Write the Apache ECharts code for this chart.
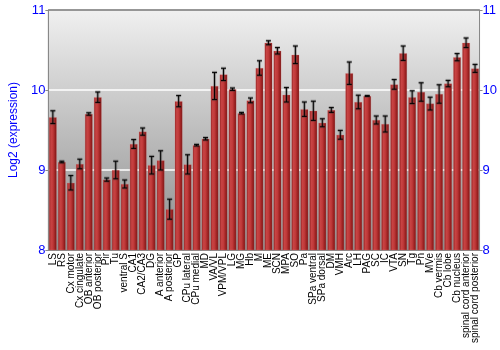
<!DOCTYPE html>
<html>
<head>
<meta charset="utf-8">
<script src="https://cdn.jsdelivr.net/npm/echarts@6/dist/echarts.min.js"></script>
<style>html,body{margin:0;padding:0;background:#fff;}#c{width:500px;height:350px;}</style>
</head>
<body>
<div id="c"></div>
<script>
const categories = ["LS","RS","Cx motor","Cx cingulate","OB anterior","OB posterior","Pir","Tu","ventral S","CA1","CA2/CA3","DG","A anterior","A posterior","GP","CPu lateral","CPu medial","MD","VA/VL","VPM/VPL","LG","MG","Hb","M","ME","SCN","MPA","SO","Pa","SPa ventral","SPa dorsal","DM","VMH","Arc","LH","PAG","SC","IC","VTA","SN","Tg","Pn","MVe","Cb vermis","Cb lobe","Cb nucleus","spinal cord anterior","spinal cord posterior"];
const values = [9.66,9.10,8.84,9.075,9.70,9.91,8.88,9.00,8.825,9.325,9.48,9.06,9.12,8.51,9.86,9.07,9.31,9.39,10.05,10.195,10.01,9.71,9.87,10.275,10.59,10.49,9.94,10.44,9.76,9.74,9.59,9.75,9.44,10.21,9.85,9.925,9.625,9.575,10.07,10.46,9.91,9.975,9.83,9.95,10.08,10.41,10.59,10.27];
const errors = [0.08,0.01,0.09,0.06,0.015,0.065,0.02,0.11,0.05,0.055,0.045,0.11,0.12,0.125,0.07,0.12,0.01,0.015,0.17,0.077,0.015,0.01,0.03,0.09,0.025,0.04,0.09,0.11,0.09,0.12,0.05,0.03,0.055,0.14,0.085,0.005,0.05,0.1,0.06,0.09,0.08,0.115,0.08,0.115,0.04,0.045,0.06,0.05];
const yMin = 8, yMax = 11, yStep = 1;

const chart = echarts.init(document.getElementById('c'));
const barGrad = new echarts.graphic.LinearGradient(0,0,1,0,[
  {offset:0,color:'#8a1818'},
  {offset:0.25,color:'#c84444'},
  {offset:0.5,color:'#c03a3a'},
  {offset:0.8,color:'#9a2020'},
  {offset:1,color:'#6a1010'}
]);
const bgGrad = new echarts.graphic.LinearGradient(0,0,0,1,[
  {offset:0,color:'#f0f0f0'},
  {offset:1,color:'#8c8c8c'}
]);
const errData = categories.map((c,i)=>[i, values[i], errors[i]]);
const yAxisBase = {
  type:'value', min:yMin, max:yMax, interval:yStep,
  axisLine:{show:true, lineStyle:{color:'#888', width:1}},
  axisTick:{show:true, length:3, lineStyle:{color:'#888'}},
  axisLabel:{color:'#0000ff', fontSize:13, fontFamily:'Liberation Sans', margin:3}
};
chart.setOption({
  animation:false,
  grid:{left:34, right:20, top:10, bottom:100, show:true, backgroundColor:bgGrad, borderColor:'#888', borderWidth:1},
  xAxis:{
    type:'category', data:categories,
    axisLine:{show:true, lineStyle:{color:'#888'}},
    axisTick:{show:false},
    axisLabel:{interval:0, rotate:90, color:'#000', fontSize:10, fontFamily:'Liberation Sans', margin:3}
  },
  yAxis:[
    Object.assign({}, yAxisBase, {
      position:'left',
      name:'Log2 (expression)', nameLocation:'middle', nameGap:20,
      nameTextStyle:{color:'#0000ff', fontSize:12, fontFamily:'Liberation Sans'},
      splitLine:{show:true, lineStyle:{color:['#888','#ffffff','#ffffff','#888'], width:1.5}}
    }),
    Object.assign({}, yAxisBase, {position:'right', splitLine:{show:false}})
  ],
  series:[
    {
      type:'bar', data:values, barCategoryGap:'14%',
      itemStyle:{color:barGrad, borderColor:'rgba(230,120,120,0.5)', borderWidth:0.5}
    },
    {
      type:'custom', data:errData, z:10,
      renderItem:function(params, api){
        const x = api.value(0), v = api.value(1), e = api.value(2);
        const t = api.coord([x, v+e]);
        const b = api.coord([x, v-e]);
        const hw = 2.5;
        const mk = (x1,y1,x2,y2,col,w)=>({type:'line', shape:{x1:x1,y1:y1,x2:x2,y2:y2}, style:{stroke:col, lineWidth:w}});
        return {type:'group', children:[
          mk(t[0],t[1],b[0],b[1],'rgba(60,60,60,0.35)',3),
          mk(t[0]-hw,t[1],t[0]+hw,t[1],'rgba(60,60,60,0.35)',3),
          mk(b[0]-hw,b[1],b[0]+hw,b[1],'rgba(60,60,60,0.35)',3),
          mk(t[0],t[1],b[0],b[1],'#000',1),
          mk(t[0]-hw,t[1],t[0]+hw,t[1],'#000',1),
          mk(b[0]-hw,b[1],b[0]+hw,b[1],'#000',1)
        ]};
      }
    }
  ]
});
</script>
</body>
</html>
